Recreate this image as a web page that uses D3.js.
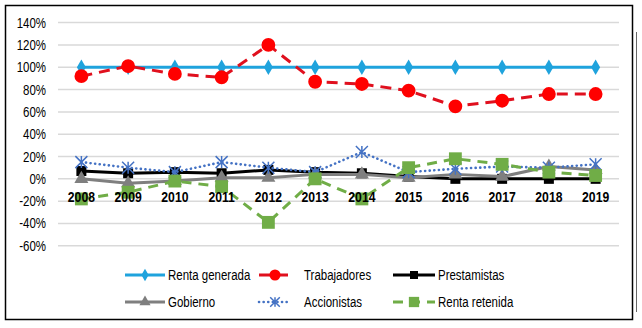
<!DOCTYPE html>
<html lang="es">
  <head>
    <meta charset="UTF-8" />
    <title>Distribución de la renta generada</title>
    <style>
      body {
        margin: 0;
        background: #ffffff;
      }
      svg text {
        font-family: "Liberation Sans", Arial, sans-serif;
        fill: #000;
      }
    </style>
    <script src="https://d3js.org/d3.v7.min.js"></script>
  </head>
  <body>
    <svg id="chart"></svg>
    <script>
      const years = ["2008", "2009", "2010", "2011", "2012", "2013", "2014", "2015", "2016", "2017", "2018", "2019"];
      const yTicks = [-60, -40, -20, 0, 20, 40, 60, 80, 100, 120, 140];

      const rentaGenerada = [100, 100, 100, 100, 100, 100, 100, 100, 100, 100, 100, 100];
      const trabajadores = [92, 101, 94, 91, 120, 87, 85, 79, 65, 70, 76, 76];
      const prestamistas = [7, 5, 6, 5, 8, 6, 5, 2, 0, 0, 0, 0];
      const gobierno = [0, -4, -2, 1, 1, 4, 4, 1, 4, 2, 11, 8];
      const accionistas = [15, 10, 6, 15, 10, 6, 24, 6, 9, 11, 10, 13];
      const rentaRetenida = [-18, -12, -2, -7, -39, 0, -18, 10, 18, 13, 6, 3];

      const width = 642;
      const height = 328;
      const narrow = 0.82; // simula Arial Narrow

      const svg = d3.select("#chart").attr("width", width).attr("height", height);

      // marco
      svg.append("rect")
        .attr("x", 5.5).attr("y", 5.5)
        .attr("width", 627).attr("height", 314)
        .attr("fill", "none").attr("stroke", "#000").attr("stroke-width", 1.5);
      svg.append("line")
        .attr("x1", 636.5).attr("x2", 636.5).attr("y1", 32).attr("y2", 312)
        .attr("stroke", "#666").attr("stroke-width", 1);

      const x = d3.scaleBand().domain(years).range([58, 619]);
      const y = d3.scaleLinear().domain([-60, 140]).range([245.8, 22.6]);
      const cx = (d) => x(d) + x.bandwidth() / 2;

      // rejilla
      svg.append("g")
        .selectAll("line")
        .data(yTicks)
        .join("line")
        .attr("x1", 58).attr("x2", 619)
        .attr("y1", (d) => y(d)).attr("y2", (d) => y(d))
        .attr("stroke", "#d9d9d9").attr("stroke-width", 1.5);

      const yAxis = d3.axisLeft(y).tickValues(yTicks).tickFormat((d) => d + "%").tickSize(0).tickPadding(0);
      const gy = svg.append("g").attr("transform", "translate(46,0)").call(yAxis);
      gy.select(".domain").remove();
      gy.selectAll("text")
        .style("font-size", "14px")
        .attr("fill", "#000")
        .attr("transform", `scale(${narrow},1)`);

      const series = [
        { name: "Renta generada", values: rentaGenerada, color: "#1fa3dd", mcolor: "#1fa3dd", dash: null, cap: "butt", marker: "diamond", size: 70 },
        { name: "Trabajadores", values: trabajadores, color: "#e0101e", mcolor: "#ff0000", dash: "11,7", cap: "butt", marker: "circle", size: 150 },
        { name: "Prestamistas", values: prestamistas, color: "#000000", mcolor: "#000000", dash: null, cap: "butt", marker: "square", size: 100 },
        { name: "Gobierno", values: gobierno, color: "#7f7f7f", mcolor: "#7f7f7f", dash: null, cap: "butt", marker: "triangle", size: 85 },
        { name: "Accionistas", values: accionistas, color: "#4472c4", mcolor: "#4472c4", dash: "0.1,4.5", cap: "round", marker: "star", size: 6 },
        { name: "Renta retenida", values: rentaRetenida, color: "#70ad47", mcolor: "#70ad47", dash: "10,7", cap: "butt", marker: "square", size: 165 },
      ];

      const symbolFor = {
        diamond: d3.symbolDiamond,
        circle: d3.symbolCircle,
        square: d3.symbolSquare,
        triangle: d3.symbolTriangle,
      };

      function drawMarker(g, s, px, py, k = 1) {
        let m;
        if (s.marker === "star") {
          // marcador "estrella" de Excel: aspa + trazo vertical
          const r = s.size * k;
          const p = d3.path();
          p.moveTo(-r, -r); p.lineTo(r, r);
          p.moveTo(-r, r); p.lineTo(r, -r);
          p.moveTo(0, -r); p.lineTo(0, r);
          m = g.append("path").attr("d", p.toString())
            .attr("fill", "none").attr("stroke", s.mcolor).attr("stroke-width", 1.5);
        } else {
          m = g.append("path")
            .attr("d", d3.symbol().type(symbolFor[s.marker]).size(s.size * k * k)())
            .attr("fill", s.mcolor);
        }
        m.attr("transform", `translate(${px},${py})`);
      }

      const line = d3.line().x((d) => cx(d.year)).y((d) => y(d.v));

      const plot = svg.append("g");

      series.forEach((s) => {
        const pts = years.map((yr, i) => ({ year: yr, v: s.values[i] }));
        const g = plot.append("g");
        g.append("path")
          .datum(pts)
          .attr("d", line)
          .attr("fill", "none")
          .attr("stroke", s.color)
          .attr("stroke-width", s.marker === "star" ? 2.6 : 3)
          .attr("stroke-linecap", s.cap)
          .attr("stroke-linejoin", "round")
          .attr("stroke-dasharray", s.dash);
        pts.forEach((p) => drawMarker(g, s, cx(p.year), y(p.v)));
      });

      // etiquetas del eje x
      svg.append("g")
        .selectAll("text")
        .data(years)
        .join("text")
        .attr("transform", (d) => `translate(${cx(d)},202) scale(0.87,1)`)
        .attr("text-anchor", "middle")
        .style("font-size", "14px")
        .style("font-weight", "bold")
        .text((d) => d);

      // leyenda
      const legendCols = [
        { x1: 125, x2: 165, tx: 168 },
        { x1: 259, x2: 291, tx: 304 },
        { x1: 393, x2: 435, tx: 438 },
      ];
      const legendRows = [275, 302];

      series.forEach((s, i) => {
        const col = legendCols[i % 3];
        const ly = legendRows[Math.floor(i / 3)];
        const g = svg.append("g");
        g.append("line")
          .attr("x1", col.x1).attr("x2", col.x2)
          .attr("y1", ly).attr("y2", ly)
          .attr("stroke", s.color)
          .attr("stroke-width", s.marker === "star" ? 2.6 : 3)
          .attr("stroke-linecap", s.cap)
          .attr("stroke-dasharray", s.dash);
        drawMarker(g, s, (col.x1 + col.x2) / 2, ly, 0.8);
        g.append("text")
          .attr("transform", `translate(${col.tx},${ly + 5}) scale(${narrow},1)`)
          .style("font-size", "14px")
          .text(s.name);
      });
    </script>
  </body>
</html>
